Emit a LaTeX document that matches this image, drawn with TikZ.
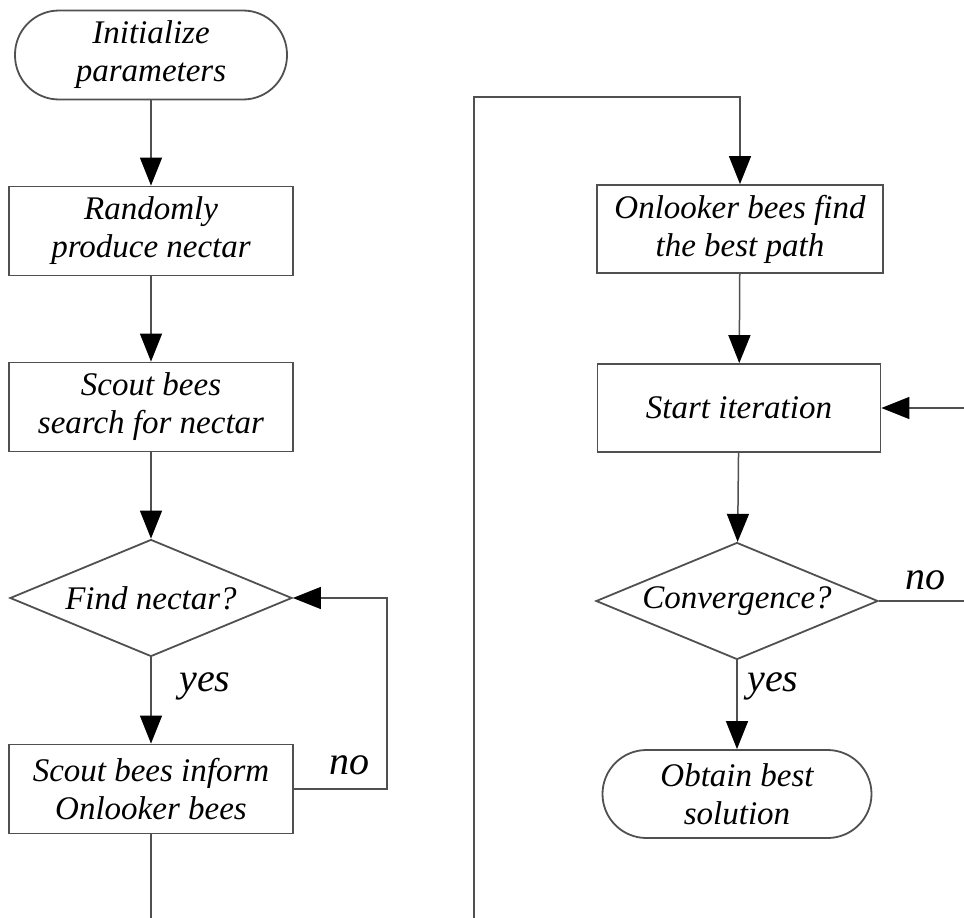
\documentclass[tikz,border=0pt]{standalone}
\usepackage{fontspec}
\setmainfont{Liberation Serif}
\usetikzlibrary{arrows.meta,shapes.geometric}
\definecolor{ln}{HTML}{505050}
\begin{document}
\begin{tikzpicture}[x=1pt,y=1pt,
  base/.style={draw=ln,line width=1.8pt,align=center,inner sep=0pt,
    font=\fontsize{33}{38}\selectfont\itshape},
  boxnode/.style={base,rectangle,minimum width=284pt,minimum height=89pt},
  term/.style={base,rectangle,rounded corners=44pt,minimum height=89pt},
  dec/.style={base,diamond,minimum width=282pt,minimum height=117pt,aspect=2.4},
  arr/.style={draw=ln,line width=1.5pt,-{Triangle[length=28pt,width=22pt,color=black]}},
  ln/.style={draw=ln,line width=1.5pt},
  lab/.style={font=\fontsize{40}{44}\selectfont\itshape,inner sep=0pt}]
\useasboundingbox (0,0) rectangle (964,-918);
% left column
\node[term,minimum width=272pt] (init) at (151,-55) {Initialize\\parameters};
\node[boxnode] (rand) at (151,-231) {Randomly\\produce nectar};
\node[boxnode] (scout) at (151,-407) {Scout bees\\search for nectar};
\node[dec] (find) at (151,-598) {Find nectar?};
\node[boxnode] (inform) at (151,-789) {Scout bees inform\\Onlooker bees};
\draw[arr] (init) -- (rand);
\draw[arr] (rand) -- (scout);
\draw[arr] (scout) -- (find);
\draw[arr] (find) -- (inform);
\node[lab] (yes1) at (205,-686) {yes};
\draw[arr] (inform.east) -- ++(93,0) |- (find.east);
\node[lab] (no1) at (349,-765) {no};
\coordinate (lbot) at (151,-918);
\draw[ln] (inform.south) -- (lbot);
% right column
\node[boxnode,minimum width=286pt,minimum height=88pt] (onl) at (740,-229) {Onlooker bees find\\the best path};
\node[boxnode,minimum width=283pt,minimum height=88pt] (start) at (739,-408) {Start iteration};
\node[dec] (conv) at (737,-601) {Convergence?};
\node[term,minimum width=269pt,minimum height=88pt] (obt) at (737,-794) {Obtain best\\solution};
\coordinate (rbot) at (474,-918);
\coordinate (rtop) at (474,-97);
\draw[arr] (rbot) -- (rtop) -| (onl.north);
\draw[arr] (onl) -- (start);
\draw[arr] (start) -- (conv);
\draw[arr] (conv) -- (obt);
\node[lab] (yes2) at (773,-686) {yes};
\coordinate (redge) at (964,-601);
\coordinate (redge2) at (964,-408);
\draw[ln] (conv.east) -- (redge);
\node[lab] (no2) at (925,-580) {no};
\draw[arr] (redge2) -- (start.east);
\end{tikzpicture}
\end{document}
